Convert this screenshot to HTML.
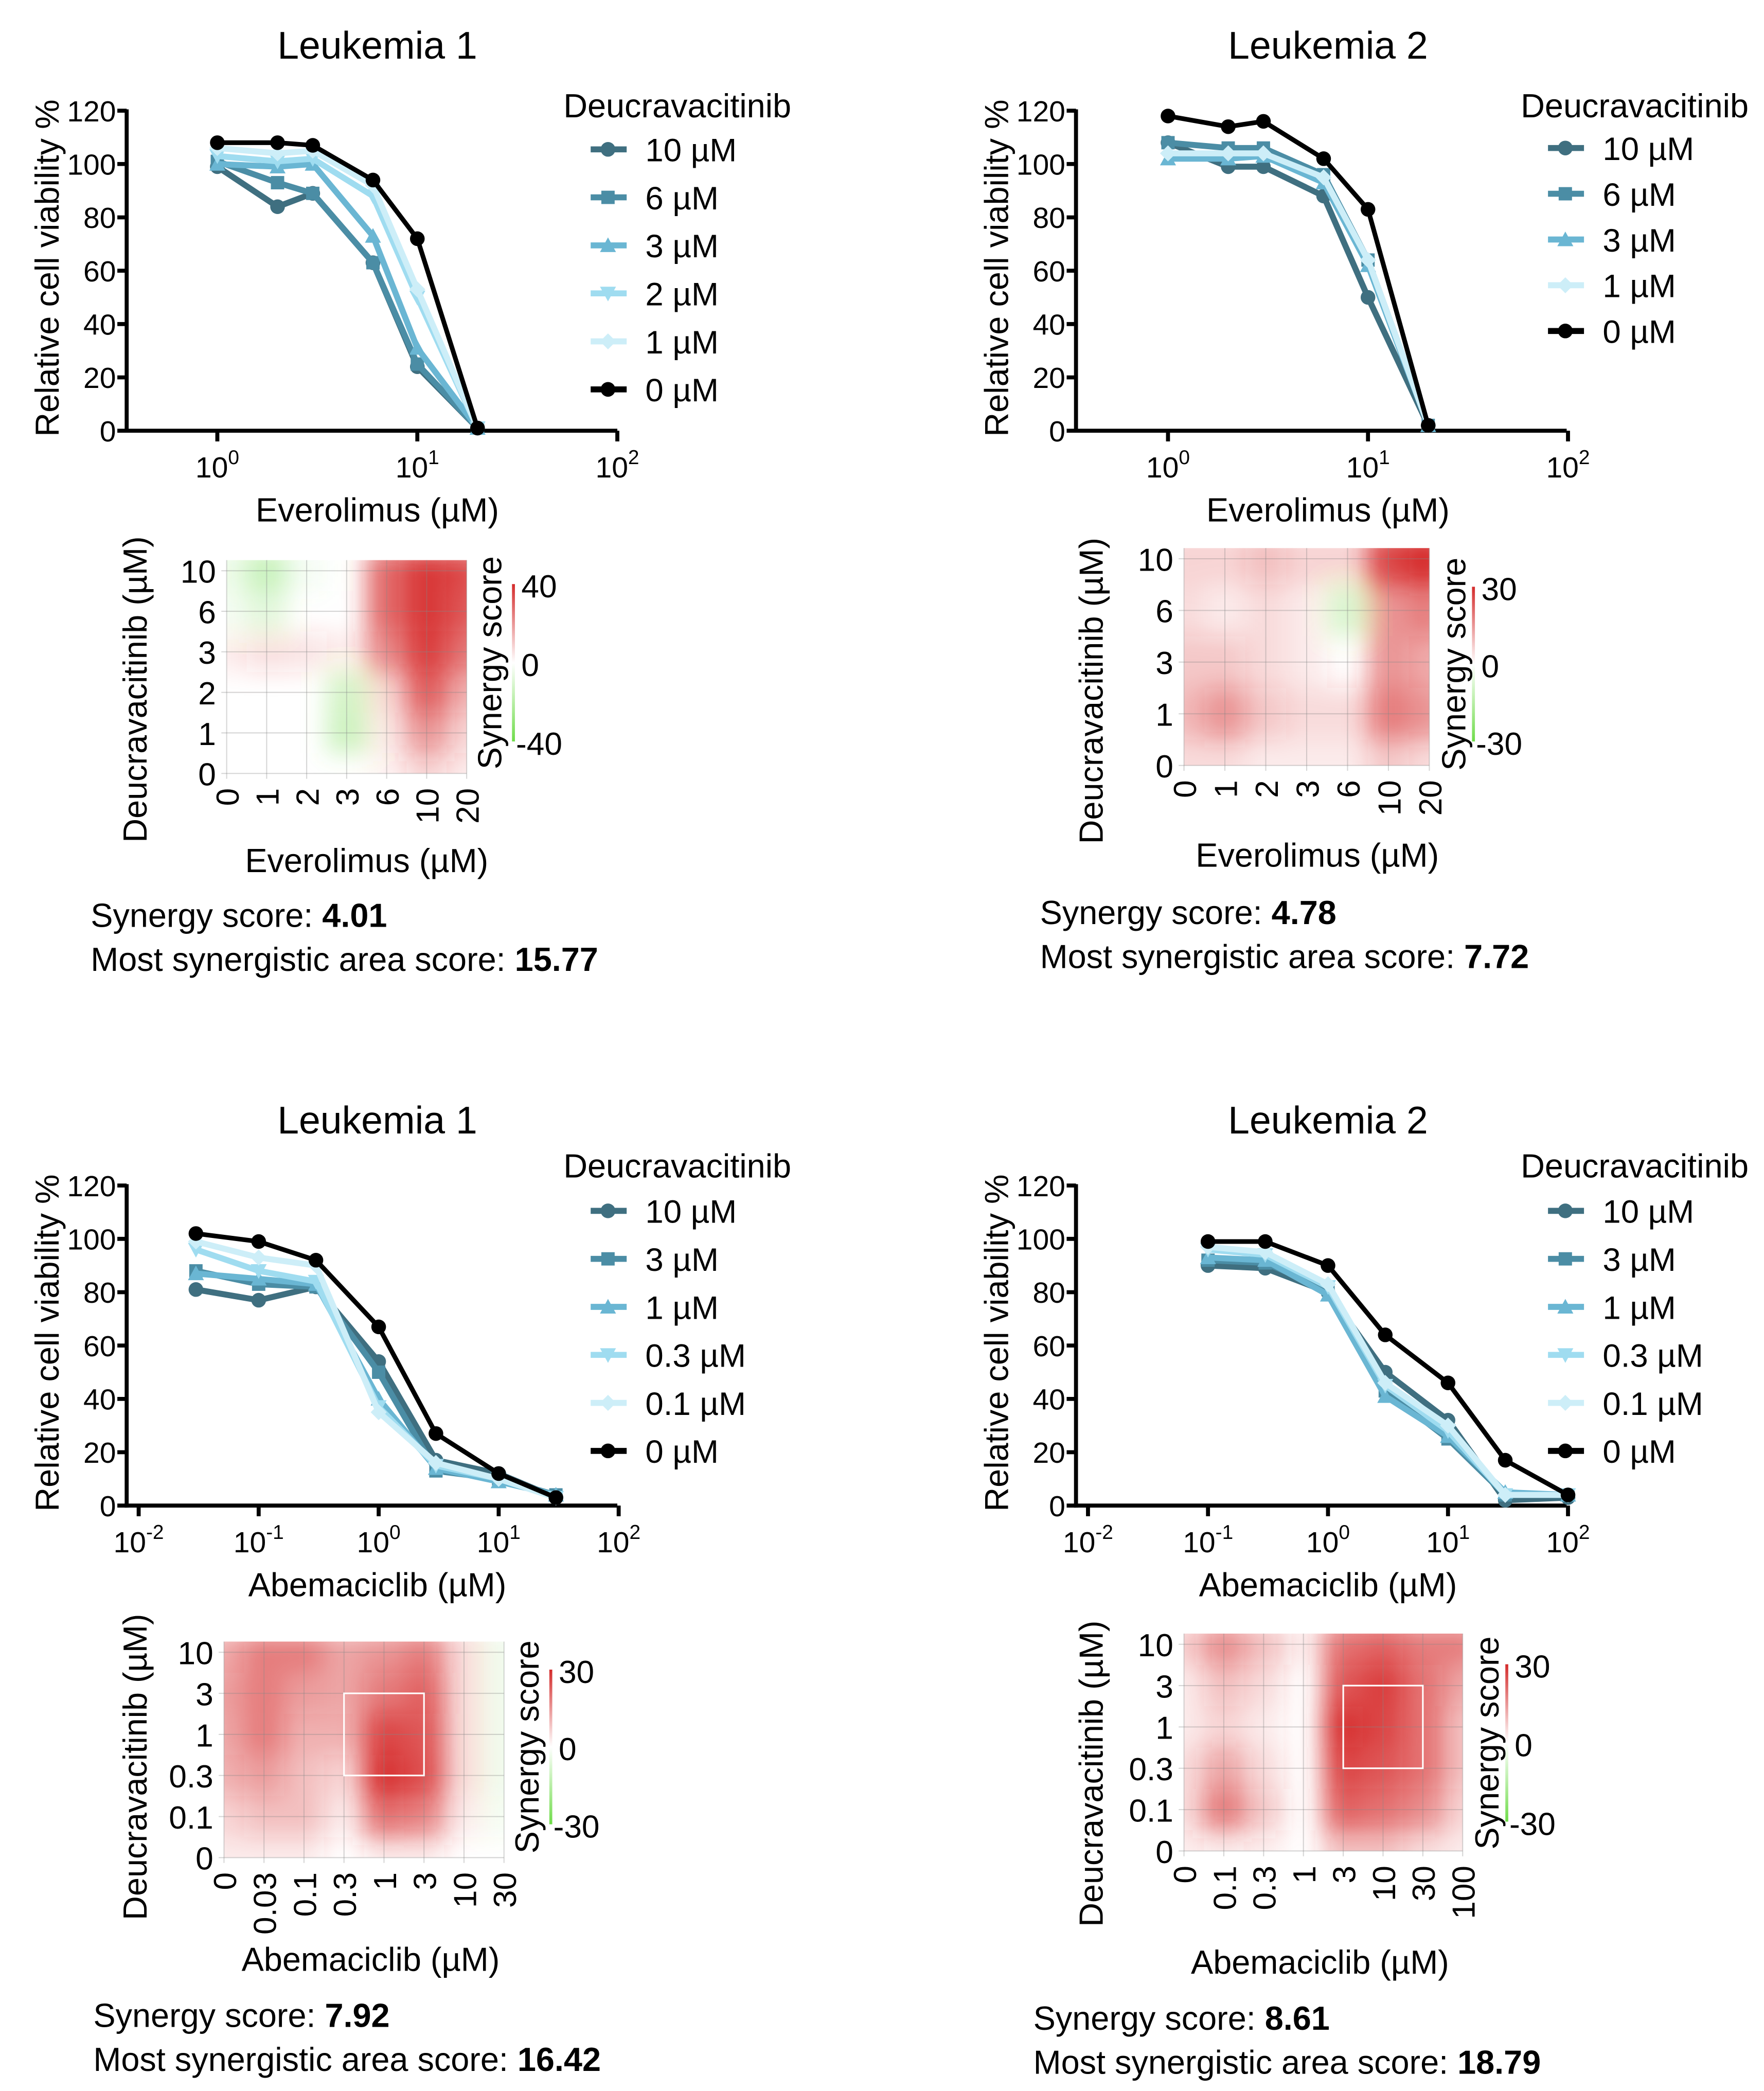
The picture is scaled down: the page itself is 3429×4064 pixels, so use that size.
<!DOCTYPE html>
<html><head><meta charset="utf-8">
<style>
html,body{margin:0;padding:0;background:#fff;}
svg{display:block;}
text{font-family:"Liberation Sans",Arial,sans-serif;fill:#000;}
</style></head>
<body>
<svg id="root" xmlns="http://www.w3.org/2000/svg" width="3429" height="4064" viewBox="0 0 1323 1568" preserveAspectRatio="none">
<defs>
<filter id="blur" x="-10%" y="-10%" width="120%" height="120%"><feGaussianBlur stdDeviation="9"/></filter>
</defs>
</svg>
<script>
// ---------- DATA ----------
const evX = [1, 2, 3, 6, 10, 20];
const evL1Labels = ["10 µM","6 µM","3 µM","2 µM","1 µM","0 µM"];
const evL1_10 = [99, 84, 89, 63, 24, 1];
const evL1_6  = [101, 93, 89, 63, 25, 1];
const evL1_3  = [100, 99, 100, 73, 31, 1];
const evL1_2  = [103, 101, 102, 88, 50, 1];
const evL1_1  = [106, 104, 105, 92, 53, 1];
const evL1_0  = [108, 108, 107, 94, 72, 1];

const evL2Labels = ["10 µM","6 µM","3 µM","1 µM","0 µM"];
const evL2_10 = [108, 99, 99, 88, 50, 2];
const evL2_6  = [108, 106, 106, 96, 64, 2];
const evL2_3  = [102, 102, 103, 93, 62, 2];
const evL2_1  = [104, 104, 104, 95, 64, 2];
const evL2_0  = [118, 114, 116, 102, 83, 2];

const abX1 = [0.03, 0.1, 0.3, 1, 3, 10, 30];
const abLabels = ["10 µM","3 µM","1 µM","0.3 µM","0.1 µM","0 µM"];
const abL1_10  = [81, 77, 82, 54, 17, 12, 3];
const abL1_3   = [88, 83, 82, 50, 13, 10, 4];
const abL1_1   = [87, 85, 83, 40, 14, 9, 4];
const abL1_03  = [96, 88, 84, 37, 15, 10, 3];
const abL1_01  = [99, 93, 90, 35, 16, 10, 3];
const abL1_0   = [102, 99, 92, 67, 27, 12, 3];

const abX2 = [0.1, 0.3, 1, 3, 10, 30, 100];
const abL2_10  = [90, 89, 80, 50, 32, 2, 3];
const abL2_3   = [92, 91, 81, 43, 25, 4, 4];
const abL2_1   = [93, 92, 79, 41, 26, 5, 4];
const abL2_03  = [96, 94, 82, 45, 28, 4, 4];
const abL2_01  = [97, 95, 83, 46, 30, 4, 4];
const abL2_0   = [99, 99, 90, 64, 46, 17, 4];

const yTicks = [0, 20, 40, 60, 80, 100, 120];

// heatmaps: rows top (highest conc) to bottom (0)
const hm1Cols = ["0","1","2","3","6","10","20"];
const hm1Rows = ["10","6","3","2","1","0"];
const hm1Vals = [[-5,-15,-3,0,28,38,34],[-3,-8,0,0,28,38,32],[3,6,5,3,22,36,26],[0,0,0,-12,8,30,15],[0,0,0,-14,5,20,8],[0,0,0,0,2,8,3]];
const hm2Cols = ["0","1","2","3","6","10","20"];
const hm2Rows = ["10","6","3","1","0"];
const hm2Vals = [[6,6,9,6,6,26,32],[5,3,5,3,-8,15,18],[8,8,5,3,0,15,12],[10,15,8,5,5,18,15],[5,5,3,3,3,8,5]];
const hm3Cols = ["0","0.03","0.1","0.3","1","3","10","30"];
const hm3Rows = ["10","3","1","0.3","0.1","0"];
const hm3Vals = [[12,18,18,13,15,18,5,-3],[14,18,14,13,19,22,5,-3],[13,18,11,11,26,24,5,-3],[11,14,9,6,29,25,5,-3],[6,9,9,3,20,17,3,-2],[3,3,3,0,3,3,0,0]];
const hm4Cols = ["0","0.1","0.3","1","3","10","30","100"];
const hm4Rows = ["10","3","1","0.3","0.1","0"];
const hm4Vals = [[7,16,9,2,20,22,18,18],[3,9,5,0,24,27,20,13],[3,6,3,0,29,26,20,9],[5,13,5,0,26,24,20,9],[5,19,8,0,22,20,16,6],[2,3,2,0,9,9,5,3]];

// ---------- HELPERS ----------
const NS = "http://www.w3.org/2000/svg";
const root = document.getElementById('root');
function mk(tag, attrs, parent){const e=document.createElementNS(NS,tag);for(const k in attrs)e.setAttribute(k,attrs[k]);(parent||root).appendChild(e);return e;}
function txt(s,x,y,size,parent,anchor,weight,rot){
  const t=mk('text',{x:x,y:y,'font-size':size,'text-anchor':anchor||'middle'},parent);
  if(weight)t.setAttribute('font-weight',weight);
  if(rot!==undefined)t.setAttribute('transform','rotate('+rot+' '+x+' '+y+')');
  t.textContent=s;return t;
}
const colors=["#3f6f80","#4b8da5","#6ab6d3","#9fdcf0","#cdeef8","#000000"];
const colors5=["#3f6f80","#4b8da5","#6ab6d3","#cdeef8","#000000"];

function marker(g,shape,x,y,c){
  if(shape==='circle') return mk('circle',{cx:x,cy:y,r:5.5,fill:c},g);
  if(shape==='square') return mk('rect',{x:x-5,y:y-5,width:10,height:10,fill:c},g);
  if(shape==='up') return mk('polygon',{points:`${x},${y-6} ${x+6},${y+5} ${x-6},${y+5}`,fill:c},g);
  if(shape==='down') return mk('polygon',{points:`${x},${y+6} ${x+6},${y-5} ${x-6},${y-5}`,fill:c},g);
  return mk('polygon',{points:`${x},${y-6} ${x+6},${y} ${x},${y+6} ${x-6},${y}`,fill:c},g);
}

function lineChart(o){
  const g=mk('g',{});
  
  
  const x0=o.x0,x1=o.x1,yB=323+o.dy,yT=83+o.dy;
  const xs=v=>o.dec0+(Math.log10(v)-o.decMin)*o.decPx;
  const ys=v=>yB-(v/120)*(yB-yT);
  const t=txt(o.title,o.titleX,35+o.dy+9,29,g);
  
  
  const ya=mk('line',{x1:x0,y1:yT-1,x2:x0,y2:yB+1.5,stroke:'#000','stroke-width':3},g);
  
  
  const xa=mk('line',{x1:x0-1.5,y1:yB,x2:x1,y2:yB,stroke:'#000','stroke-width':3},g);
  
  
  yTicks.forEach(v=>{
    mk('line',{x1:x0-7,y1:ys(v),x2:x0,y2:ys(v),stroke:'#000','stroke-width':3},g);
    const l=txt(String(v),x0-8,ys(v)+8,22,g,'end');
    
    
  });
  o.decs.forEach(d=>{
    const X=o.dec0+(d-o.decMin)*o.decPx;
    mk('line',{x1:X,y1:yB,x2:X,y2:yB+8,stroke:'#000','stroke-width':3},g);
    const l=mk('text',{x:X,y:yB+35,'font-size':22,'text-anchor':'middle'},g);
    
    
    l.appendChild(document.createTextNode('10'));
    const s=mk('tspan',{dy:-10,'font-size':15},l);s.textContent=String(d);
  });
  const xt=txt(o.xTitle,o.titleX,yB+68,25,g);
  
  
  const yt=txt('Relative cell viability %',x0-51,yB-122,25,g,'middle',null,-90);
  
  
  o.series.forEach((s,i)=>{
    const c=o.cols[i];
    const pts=o.xv.map((v,k)=>xs(v)+','+ys(s[k])).join(' ');
    const pl=mk('polyline',{points:pts,fill:'none',stroke:c,'stroke-width':i===o.series.length-1?3.5:4.5,'stroke-linejoin':'round'},g);
    
    
    o.xv.forEach((v,k)=>{
      const m=marker(g,o.shapes[i],xs(v),ys(s[k]),c);
      
      
    });
  });
  const lg=mk('g',{},g);
  
  
  txt('Deucravacitinib',o.legX+88,o.legTitleY+9,25,lg);
  o.labels.forEach((lab,i)=>{
    const y=o.legY0+o.dy+i*o.legStep;
    const c=o.cols[i];
    const e=mk('g',{},lg);
    
    
    mk('line',{x1:o.legX+23,y1:y,x2:o.legX+50,y2:y,stroke:c,'stroke-width':4.5},e);
    marker(e,o.shapes[i],o.legX+36,y,c);
    txt(lab,o.legX+64,y+9,24.5,e,'start');
  });
}

function heatmap(o){
  const g=mk('g',{});
  
  
  const nc=o.cols.length,nr=o.rows.length;
  const cx=i=>o.x0+i*(o.x1-o.x0)/(nc-1);
  const ry=j=>o.yT+j*(o.yB-o.yT)/(nr-1);
  const cw=(o.x1-o.x0)/(nc-1),rh=(o.yB-o.yT)/(nr-1);
  const cid='clip-'+o.name;
  const cp=mk('clipPath',{id:cid},g);
  mk('rect',{x:o.x0,y:o.yT-8,width:o.x1-o.x0,height:o.yB-o.yT+8},cp);
  const cg=mk('g',{'clip-path':'url(#'+cid+')'},g);
  mk('rect',{x:o.x0,y:o.yT-8,width:o.x1-o.x0,height:o.yB-o.yT+8,fill:'#fff'},cg);
  const bg=mk('g',{filter:'url(#blur)'},cg);
  o.vals.forEach((row,j)=>row.forEach((v,i)=>{
    const a=Math.min(1,Math.abs(v)/o.max);
    const r=mk('rect',{x:cx(i)-cw/2,y:ry(j)-rh/2,width:cw,height:rh,fill:v>=0?'#d62a2a':'#6fdc4a','fill-opacity':a.toFixed(3)},bg);
    
    
  }));
  for(let i=0;i<nc;i++){mk('line',{x1:cx(i),y1:o.yT-8,x2:cx(i),y2:o.yB+4,stroke:'#888','stroke-opacity':0.35,'stroke-width':0.8},g);}
  for(let j=0;j<nr;j++){mk('line',{x1:o.x0-4,y1:ry(j),x2:o.x1,y2:ry(j),stroke:'#888','stroke-opacity':0.35,'stroke-width':0.8},g);}
  if(o.box){const b=mk('rect',{x:cx(o.box[0]),y:ry(o.box[1]),width:cx(o.box[2])-cx(o.box[0]),height:ry(o.box[3])-ry(o.box[1]),fill:'none',stroke:'#fff','stroke-width':1.2},g);
    
    }
  o.rows.forEach((r,j)=>{const l=txt(r,o.x0-8,ry(j)+9,24,g,'end');
    
    });
  o.cols.forEach((c,i)=>{const l=txt(c,cx(i)+9,o.yB+11,24,g,'end',null,-90);
    
    });
  const yt=txt('Deucravacitinib (µM)',o.yLabX,o.yLabY,25,g,'middle',null,-90);
  
  
  const xt=txt(o.xTitle,o.xLabX,o.xLabY,25,g);
  
  
  const cb=mk('g',{},g);
  
  
  const gid='grad-'+o.name;
  const lgd=mk('linearGradient',{id:gid,x1:0,y1:0,x2:0,y2:1},cb);
  mk('stop',{offset:'0','stop-color':'#d42b2b'},lgd);
  mk('stop',{offset:'0.5','stop-color':'#ffffff'},lgd);
  mk('stop',{offset:'1','stop-color':'#6fdc4a'},lgd);
  mk('rect',{x:o.cbX-1,y:o.cbT,width:2.2,height:o.cbB-o.cbT,fill:'url(#'+gid+')'},cb);
  txt(String(o.max),o.cbX+6,o.cbT+10,24,cb,'start');
  txt('0',o.cbX+6,(o.cbT+o.cbB)/2+10,24,cb,'start');
  txt('-'+o.max,o.cbX+2,o.cbB+10,24,cb,'start');
  const st=txt('Synergy score',o.ssX,(o.cbT+o.cbB)/2,25,g,'middle',null,-90);
  
  
  const s1=mk('text',{x:o.tx,y:o.ty,'font-size':25},g);
  
  
  s1.appendChild(document.createTextNode('Synergy score: '));
  const b1=mk('tspan',{'font-weight':'bold'},s1);b1.textContent=o.s1;
  const s2=mk('text',{x:o.tx,y:o.ty+33,'font-size':25},g);
  
  
  s2.appendChild(document.createTextNode('Most synergistic area score: '));
  const b2=mk('tspan',{'font-weight':'bold'},s2);b2.textContent=o.s2;
}

const shapes6=['circle','square','up','down','diamond','circle'];
const shapes5=['circle','square','up','diamond','circle'];

lineChart({name:'everolimus-leukemia1-chart',title:'Leukemia 1',titleX:283,dy:0,x0:95,x1:463,dec0:163,decMin:0,decPx:150,decs:[0,1,2],
  xTitle:'Everolimus (µM)',xv:evX,series:[evL1_10,evL1_6,evL1_3,evL1_2,evL1_1,evL1_0],labels:evL1Labels,cols:colors,shapes:shapes6,legX:420,legTitleY:79,legY0:112,legStep:36});
lineChart({name:'everolimus-leukemia2-chart',title:'Leukemia 2',titleX:996,dy:0,x0:807,x1:1175,dec0:876,decMin:0,decPx:150,decs:[0,1,2],
  xTitle:'Everolimus (µM)',xv:evX,series:[evL2_10,evL2_6,evL2_3,evL2_1,evL2_0],labels:evL2Labels,cols:colors5,shapes:shapes5,legX:1138,legTitleY:79,legY0:111,legStep:34.3});
lineChart({name:'abemaciclib-leukemia1-chart',title:'Leukemia 1',titleX:283,dy:806,x0:95,x1:463,dec0:284,decMin:0,decPx:90,decs:[-2,-1,0,1,2],
  xTitle:'Abemaciclib (µM)',xv:abX1,series:[abL1_10,abL1_3,abL1_1,abL1_03,abL1_01,abL1_0],labels:abLabels,cols:colors,shapes:shapes6,legX:420,legTitleY:874,legY0:102,legStep:36});
lineChart({name:'abemaciclib-leukemia2-chart',title:'Leukemia 2',titleX:996,dy:806,x0:807,x1:1175,dec0:996,decMin:0,decPx:90,decs:[-2,-1,0,1,2],
  xTitle:'Abemaciclib (µM)',xv:abX2,series:[abL2_10,abL2_3,abL2_1,abL2_03,abL2_01,abL2_0],labels:abLabels,cols:colors,shapes:shapes6,legX:1138,legTitleY:874,legY0:102,legStep:36});

heatmap({name:'heatmap-everolimus-l1',cols:hm1Cols,rows:hm1Rows,vals:hm1Vals,max:40,x0:170,x1:350,yT:428,yB:580,
  yLabX:110,yLabY:517,xTitle:'Everolimus (µM)',xLabX:275,xLabY:654,cbX:385,cbT:438,cbB:556,ssX:376,tx:68,ty:695,s1:'4.01',s2:'15.77'});
heatmap({name:'heatmap-everolimus-l2',cols:hm2Cols,rows:hm2Rows,vals:hm2Vals,max:30,x0:888,x1:1072,yT:419,yB:574,
  yLabX:827,yLabY:518,xTitle:'Everolimus (µM)',xLabX:988,xLabY:650,cbX:1105,cbT:440,cbB:556,ssX:1099,tx:780,ty:693,s1:'4.78',s2:'7.72'});
heatmap({name:'heatmap-abemaciclib-l1',cols:hm3Cols,rows:hm3Rows,vals:hm3Vals,max:30,x0:168,x1:378,yT:1239,yB:1393,box:[3,1,5,3],
  yLabX:110,yLabY:1325,xTitle:'Abemaciclib (µM)',xLabX:278,xLabY:1478,cbX:413,cbT:1252,cbB:1368,ssX:404,tx:70,ty:1520,s1:'7.92',s2:'16.42'});
heatmap({name:'heatmap-abemaciclib-l2',cols:hm4Cols,rows:hm4Rows,vals:hm4Vals,max:30,x0:888,x1:1097,yT:1233,yB:1388,box:[4,1,6,3],
  yLabX:827,yLabY:1330,xTitle:'Abemaciclib (µM)',xLabX:990,xLabY:1480,cbX:1130,cbT:1248,cbB:1366,ssX:1124,tx:775,ty:1522,s1:'8.61',s2:'18.79'});
</script>
</body></html>
